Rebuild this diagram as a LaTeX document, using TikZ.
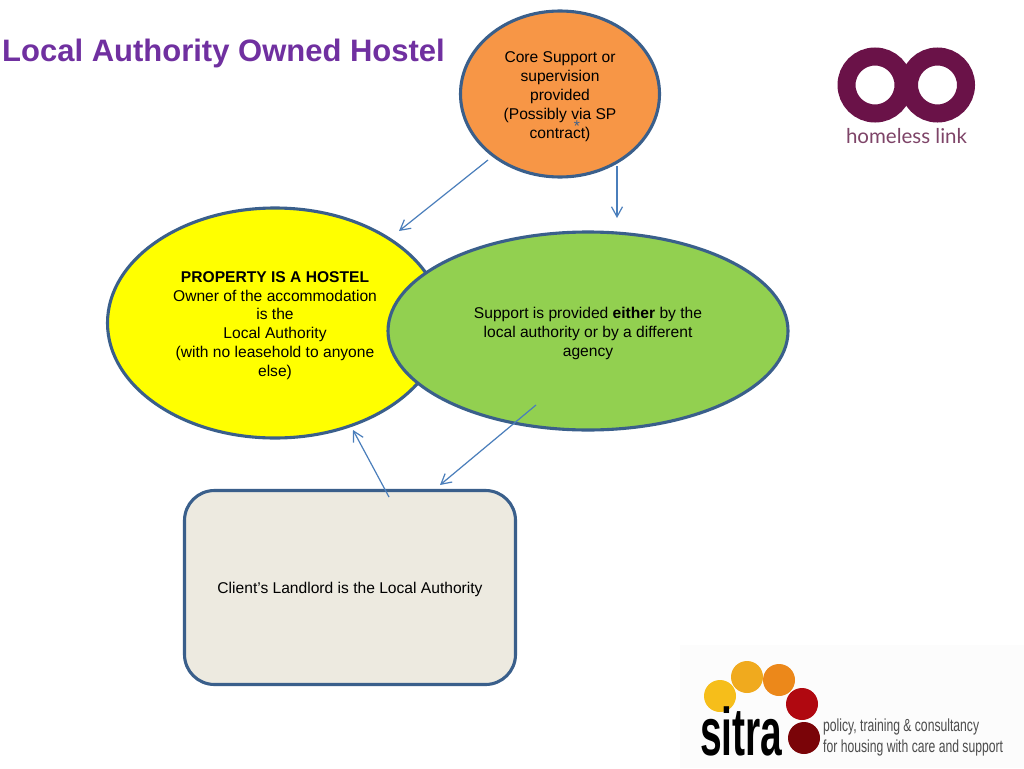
\documentclass[tikz,border=0pt]{standalone}
\usepackage{fontspec}
\setmainfont{Liberation Sans}
\newfontfamily\lightfont{Lato}
\usetikzlibrary{shapes.geometric,arrows.meta}
\definecolor{edgeblue}{HTML}{3A5F8B}
\definecolor{arrowblue}{HTML}{4A7EBB}
\definecolor{hlink}{HTML}{6A1248}
\definecolor{hlinktext}{HTML}{7E4468}
\definecolor{panelfill}{HTML}{EDEAE0}
\definecolor{titlepurple}{RGB}{112,48,160}
\definecolor{corefill}{RGB}{247,150,70}
\definecolor{ownerfill}{RGB}{255,255,0}
\definecolor{supportfill}{RGB}{146,208,80}
\newcommand{\dnstrut}{\rule{0pt}{16pt}}
\tikzset{
  bubble/.style={ellipse,draw=edgeblue,line width=3.1pt,inner sep=0pt,align=center,text=black,font=\fontsize{15.6}{18.9}\selectfont},
  panel/.style={rectangle,rounded corners=30pt,draw=edgeblue,line width=3.1pt,fill=panelfill,inner sep=0pt,align=center,font=\fontsize{15.6}{18.9}\selectfont},
  link/.style={draw=arrowblue,line width=1.2pt,-{Straight Barb[length=10pt,width=11pt,line width=1.2pt]}},
  dot/.style={circle,inner sep=0pt,minimum size=32pt},
  ring/.style={circle,draw=hlink,line width=18pt,inner sep=0pt,minimum size=57pt}
}
\begin{document}
\begin{tikzpicture}[x=1pt,y=-1pt]
\useasboundingbox (0,0) rectangle (1024,768);
\fill[white] (0,0) rectangle (1024,768);
\fill[black!1] (680,645) rectangle (1024,768);
\node[anchor=base west,inner sep=0pt,font=\fontsize{31}{33}\selectfont\bfseries,text=titlepurple] (title) at (2,61) {Local Authority Owned Hostel};
\node[bubble,fill=corefill,minimum width=199pt,minimum height=166pt] (core) at (560,94) {\dnstrut Core Support or\\supervision\\provided\\(Possibly via SP\\contract)};
\node[text=edgeblue,font=\fontsize{15.6}{18}\selectfont,inner sep=0pt] (star) at (577,126) {*};
\node[bubble,fill=ownerfill,minimum width=335pt,minimum height=230pt] (owner) at (275,323) {\dnstrut\textbf{PROPERTY IS A HOSTEL}\\Owner of the accommodation\\is the\\Local Authority\\(with no leasehold to anyone\\else)};
\node[bubble,fill=supportfill,minimum width=400pt,minimum height=198pt] (support) at (588,331) {\dnstrut Support is provided \textbf{either} by the\\local authority or by a different\\agency};
\node[panel,minimum width=331pt,minimum height=194pt] (client) at (350,587.5) {\dnstrut Client’s Landlord is the Local Authority};
\coordinate (a1s) at (488,160); \coordinate (a1e) at (399,231);
\coordinate (a2s) at (617,166); \coordinate (a2e) at (617,218);
\coordinate (a3s) at (536,405); \coordinate (a3e) at (440,485);
\coordinate (a4s) at (389,497); \coordinate (a4e) at (353,430);
\draw[link] (a1s) -- (a1e);
\draw[link] (a2s) -- (a2e);
\draw[link] (a3s) -- (a3e);
\draw[link] (a4s) -- (a4e);
% homeless link logo
\node[ring] (ringa) at (875,85) {};
\node[ring] (ringb) at (937.5,85) {};
\node[anchor=base,text=hlinktext,font=\lightfont\fontsize{20.5}{22}\selectfont,inner sep=0pt] (hl) at (906.5,143) {homeless link};
% sitra logo
\node[dot,fill={rgb,255:red,246;green,190;blue,26}] (d1) at (720,696) {};
\node[dot,fill={rgb,255:red,240;green,170;blue,30}] (d2) at (747,677) {};
\node[dot,fill={rgb,255:red,236;green,136;blue,26}] (d3) at (779,680) {};
\node[dot,fill={rgb,255:red,176;green,8;blue,16}] (d4) at (802,704) {};
\node[dot,fill={rgb,255:red,122;green,4;blue,8}] (d5) at (804,738) {};
\node[anchor=base west,inner sep=0pt,font=\fontsize{66}{70}\selectfont\bfseries,text=black] (sitra) at (700,755) {\scalebox{0.59}[1.02]{sitra}};
\node[anchor=base west,inner sep=0pt,text=black!70,font=\fontsize{17.5}{21}\selectfont] (pol) at (823,731) {\scalebox{0.695}[1]{policy, training \& consultancy}};
\node[anchor=base west,inner sep=0pt,text=black!70,font=\fontsize{17.5}{21}\selectfont] (hous) at (823,752) {\scalebox{0.695}[1]{for housing with care and support}};
\end{tikzpicture}
\end{document}
